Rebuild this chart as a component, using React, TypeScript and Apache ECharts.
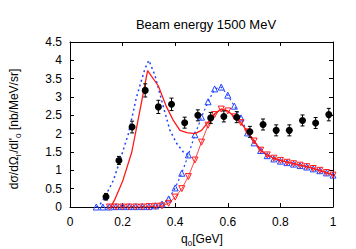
import React, { useEffect, useRef } from "react";
import * as echarts from "echarts";

// Experimental data (black points): q0 [GeV], cross section, error
const dataX = [0.137, 0.186, 0.236, 0.286, 0.336, 0.386, 0.436, 0.486, 0.535, 0.585, 0.634, 0.684, 0.734, 0.784, 0.834, 0.884, 0.934, 0.984];
const dataY = [0.28, 1.27, 2.18, 3.18, 2.73, 2.8, 2.3, 2.5, 2.43, 2.47, 2.45, 2.05, 2.25, 2.09, 2.09, 2.36, 2.29, 2.52];
const dataErr = [0.09, 0.11, 0.16, 0.18, 0.18, 0.17, 0.15, 0.15, 0.15, 0.15, 0.15, 0.15, 0.15, 0.15, 0.15, 0.15, 0.15, 0.17];

// Blue up-triangles
const blueTriX = [0.1, 0.125, 0.15, 0.175, 0.2, 0.225, 0.25, 0.275, 0.3, 0.325, 0.35, 0.375, 0.4, 0.425, 0.45, 0.475, 0.5, 0.525, 0.55, 0.575, 0.6, 0.625, 0.65, 0.675, 0.7, 0.725, 0.75, 0.775, 0.8, 0.825, 0.85, 0.875, 0.9, 0.925, 0.95, 0.975, 1.0];
const blueTriY = [0, 0, 0, 0.01, 0.01, 0.01, 0.01, 0.01, 0.01, 0.03, 0.08, 0.22, 0.52, 0.92, 1.42, 1.97, 2.45, 2.87, 3.22, 3.27, 3.05, 2.75, 2.43, 2.02, 1.75, 1.54, 1.4, 1.31, 1.25, 1.21, 1.17, 1.13, 1.09, 1.04, 0.99, 0.93, 0.87];

// Red down-triangles
const redTriX = [0.15, 0.175, 0.2, 0.225, 0.25, 0.275, 0.3, 0.325, 0.35, 0.375, 0.4, 0.425, 0.45, 0.475, 0.5, 0.525, 0.55, 0.575, 0.6, 0.625, 0.65, 0.675, 0.7, 0.725, 0.75, 0.775, 0.8, 0.825, 0.85, 0.875, 0.9, 0.925, 0.95, 0.975, 1.0];
const redTriY = [0, 0, 0, 0, 0, 0, 0.01, 0.02, 0.03, 0.1, 0.27, 0.5, 0.83, 1.28, 1.77, 2.23, 2.52, 2.67, 2.62, 2.46, 2.3, 2.05, 1.8, 1.55, 1.42, 1.33, 1.27, 1.22, 1.18, 1.14, 1.1, 1.05, 1.0, 0.94, 0.87];

// Blue dotted total curve
const blueTotX = [0.1, 0.11, 0.133, 0.165, 0.19, 0.222, 0.253, 0.285, 0.3, 0.323, 0.355, 0.38, 0.406, 0.431, 0.45];
const blueTotY = [0, 0.02, 0.27, 0.73, 1.27, 2.0, 3.0, 3.77, 4.0, 3.59, 2.73, 2.09, 1.73, 1.5, 1.42];

// Red solid total curve
const redTotX = [0.155, 0.17, 0.2, 0.235, 0.265, 0.295, 0.336, 0.367, 0.393, 0.418, 0.444, 0.475, 0.5, 0.526, 0.551, 0.575, 0.6, 0.625, 0.65, 0.675, 0.7, 0.725, 0.75, 0.775, 0.8, 0.85, 0.9, 0.95, 1.0];
const redTotY = [0, 0.2, 0.7, 1.5, 2.6, 3.72, 3.3, 2.73, 2.36, 2.09, 2.03, 2.0, 2.09, 2.32, 2.55, 2.67, 2.62, 2.46, 2.3, 2.05, 1.8, 1.55, 1.42, 1.33, 1.27, 1.18, 1.1, 1.0, 0.87];

const xTicks = [0, 0.2, 0.4, 0.6, 0.8, 1];
const yTicks = [0, 0.5, 1, 1.5, 2, 2.5, 3, 3.5, 4, 4.5];

const zip = (xs: number[], ys: number[]) => xs.map((x, i) => [x, ys[i]]);

const FONT = "'Liberation Sans', Arial, sans-serif";
const BLUE = "#2244ff";
const RED = "#ff1a1a";

export default function App() {
  const ref = useRef<HTMLDivElement>(null);
  useEffect(() => {
    document.body.style.margin = "0";
    if (!ref.current) return;
    const chart = echarts.init(ref.current, null, { renderer: "svg" });
    const fmt = (v: number) => String(v);
    const axisCommon = {
      axisLine: { show: true, onZero: false, lineStyle: { color: "#000", width: 1 } },
      axisTick: { show: true, inside: true, length: 4, lineStyle: { color: "#000", width: 1 } },
      splitLine: { show: false },
    };
    chart.setOption({
      animation: false,
      backgroundColor: "#fff",
      title: {
        text: "Beam energy 1500 MeV",
        left: 201,
        top: 13,
        textAlign: "center",
        textStyle: { fontFamily: FONT, fontSize: 13, fontWeight: "normal", color: "#000" },
      },
      grid: { left: 70, right: 23, top: 42, bottom: 42, containLabel: false },
      xAxis: [
        {
          type: "value",
          min: 0,
          max: 1,
          interval: 0.2,
          ...axisCommon,
          axisLabel: {
            color: "#000",
            fontFamily: FONT,
            fontSize: 12,
            margin: 9,
            formatter: (v: number) => (xTicks.includes(Math.round(v * 10) / 10) ? fmt(Math.round(v * 10) / 10) : ""),
          },
        },
        {
          type: "value",
          position: "top",
          min: 0,
          max: 1,
          interval: 0.2,
          ...axisCommon,
          axisLabel: { show: false },
        },
      ],
      yAxis: [
        {
          type: "value",
          min: 0,
          max: 4.5,
          interval: 0.5,
          ...axisCommon,
          axisLabel: {
            color: "#000",
            fontFamily: FONT,
            fontSize: 12,
            margin: 8,
            formatter: (v: number) => (yTicks.includes(Math.round(v * 10) / 10) ? fmt(Math.round(v * 10) / 10) : ""),
          },
        },
        {
          type: "value",
          position: "right",
          min: 0,
          max: 4.5,
          interval: 0.5,
          ...axisCommon,
          axisLabel: { show: false },
        },
      ],
      graphic: [
        {
          type: "text",
          x: 14,
          y: 129,
          rotation: Math.PI / 2,
          style: {
            text: "{a|dσ/dΩ}{s|l'}{a|/dl'}{s|0}{a| [nb/MeV/sr]}",
            align: "center",
            verticalAlign: "middle",
            fill: "#000",
            rich: {
              a: { fontFamily: FONT, fontSize: 12, lineHeight: 16, fill: "#000" },
              s: { fontFamily: FONT, fontSize: 8, lineHeight: 8, verticalAlign: "bottom", fill: "#000" },
            },
          },
        },
        {
          type: "text",
          x: 202,
          y: 239,
          style: {
            text: "{a|q}{s|0}{a|[GeV]}",
            align: "center",
            verticalAlign: "middle",
            fill: "#000",
            rich: {
              a: { fontFamily: FONT, fontSize: 12, lineHeight: 16, fill: "#000" },
              s: { fontFamily: FONT, fontSize: 8, lineHeight: 8, verticalAlign: "bottom", fill: "#000" },
            },
          },
        },
      ],
      series: [
        {
          type: "line",
          data: zip(blueTriX, blueTriY),
          symbol: "triangle",
          symbolSize: 6,
          showAllSymbol: true,
          itemStyle: { color: "rgba(255,255,255,0)", borderColor: BLUE, borderWidth: 1 },
          lineStyle: { color: BLUE, width: 1.2, type: [2, 3] },
          z: 2,
        },
        {
          type: "line",
          data: zip(redTriX, redTriY),
          symbol: "triangle",
          symbolRotate: 180,
          symbolSize: 6,
          showAllSymbol: true,
          itemStyle: { color: "rgba(255,255,255,0)", borderColor: RED, borderWidth: 1 },
          lineStyle: { color: RED, width: 0.8 },
          z: 3,
        },
        {
          type: "line",
          data: zip(blueTotX, blueTotY),
          symbol: "none",
          lineStyle: { color: BLUE, width: 1.5, type: [2, 3] },
          z: 4,
        },
        {
          type: "line",
          data: zip(redTotX, redTotY),
          symbol: "none",
          lineStyle: { color: RED, width: 1.3 },
          z: 5,
        },
        {
          type: "custom",
          data: dataX.map((x, i) => [x, dataY[i], dataErr[i]]),
          renderItem: (params: any, api: any) => {
            const x = api.value(0);
            const y = api.value(1);
            const e = api.value(2);
            const lo = api.coord([x, y - e]);
            const hi = api.coord([x, y + e]);
            const st = { stroke: "#000", lineWidth: 1 };
            return {
              type: "group",
              children: [
                { type: "line", shape: { x1: lo[0], y1: lo[1], x2: hi[0], y2: hi[1] }, style: st },
                { type: "line", shape: { x1: lo[0] - 2, y1: lo[1], x2: lo[0] + 2, y2: lo[1] }, style: st },
                { type: "line", shape: { x1: hi[0] - 2, y1: hi[1], x2: hi[0] + 2, y2: hi[1] }, style: st },
              ],
            };
          },
          z: 6,
        },
        {
          type: "scatter",
          data: zip(dataX, dataY),
          symbol: "circle",
          symbolSize: 7,
          itemStyle: { color: "#000", opacity: 1 },
          z: 7,
        },
      ],
    });
    return () => chart.dispose();
  }, []);
  return <div ref={ref} style={{ width: 356, height: 249 }} />;
}
